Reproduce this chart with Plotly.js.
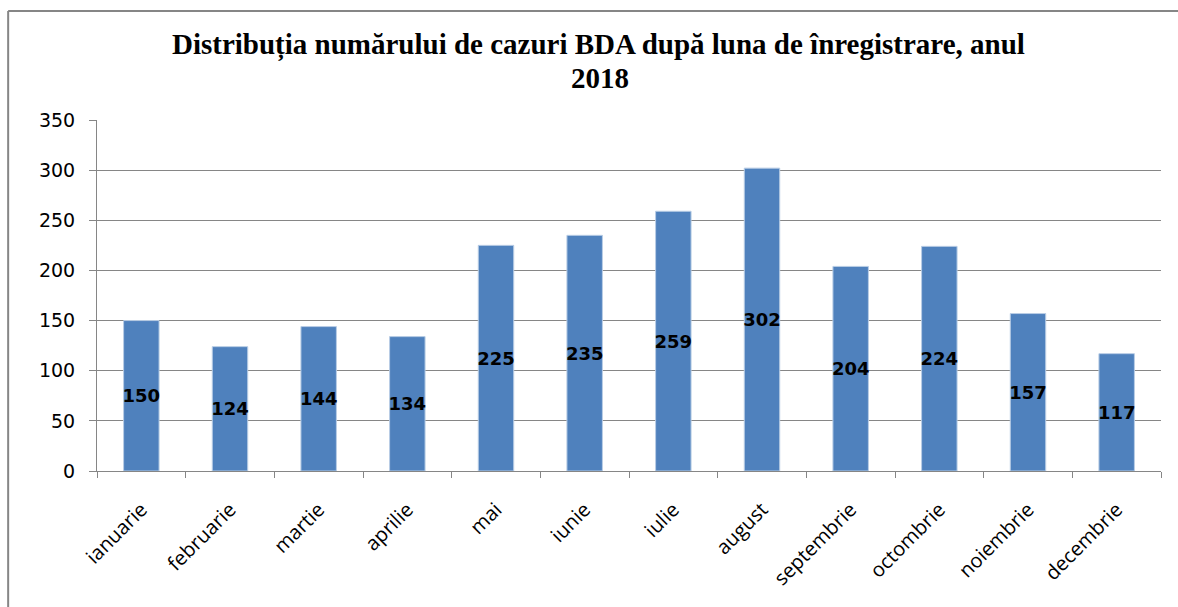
<!DOCTYPE html>
<html>
<head>
<meta charset="utf-8">
<script src="https://cdn.plot.ly/plotly-3.0.1.min.js"></script>
<style>
html,body{margin:0;padding:0;background:#fff;}
#chart{width:1178px;height:607px;}
</style>
</head>
<body>
<div id="chart"></div>
<script>
const months = ["ianuarie","februarie","martie","aprilie","mai","iunie","iulie","august","septembrie","octombrie","noiembrie","decembrie"];
const cases = [150,124,144,134,225,235,259,302,204,224,157,117];
const yTicks = [0,50,100,150,200,250,300,350];
const titleLine1 = "Distribuția numărului de cazuri BDA după luna de înregistrare, anul";
const titleLine2 = "2018";

const trace = {
  type: "bar",
  x: months,
  y: cases,
  text: cases.map(String),
  textposition: "inside",
  insidetextanchor: "middle",
  textangle: 0,
  textfont: {family: "DejaVu Sans", size: 18, color: "#000", weight: "bold"},
  constraintext: "none",
  cliponaxis: false,
  marker: {color: "#4F81BD", line: {color: "#B9CDE5", width: 1}},
  hoverinfo: "x+y"
};

const layout = {
  width: 1178, height: 607,
  margin: {l: 97, r: 17, t: 120, b: 136},
  paper_bgcolor: "#fff",
  plot_bgcolor: "#fff",
  bargap: 0.6,
  showlegend: false,
  title: {
    text: "<b>" + titleLine1 + "</b>",
    font: {family: "Liberation Serif", size: 29, color: "#000"},
    x: 0.508, xanchor: "center", y: 1 - 44/607, yanchor: "middle"
  },
  annotations: [
    {text: "<b>" + titleLine2 + "</b>", xref: "paper", yref: "paper", x: 0.473, y: (471-78)/351, xanchor: "center", yanchor: "middle", showarrow: false,
     font: {family: "Liberation Serif", size: 29, color: "#000"}}
  ],
  xaxis: {
    type: "category",
    tickangle: -45,
    tickfont: {family: "Open Sans", size: 20, color: "#000"},
    ticklabelstandoff: 18,
    showline: true, linecolor: "#868686", linewidth: 1,
    ticks: "outside", ticklen: 6, tickcolor: "#868686",
    tickson: "boundaries",
    showgrid: false
  },
  yaxis: {
    range: [0, 350],
    tickvals: yTicks,
    ticktext: yTicks.map(String),
    tickfont: {family: "DejaVu Sans", size: 19, color: "#000"},
    ticklabelstandoff: 10,
    showline: true, linecolor: "#868686", linewidth: 1,
    ticks: "outside", ticklen: 7, tickcolor: "#868686",
    showgrid: true, gridcolor: "#868686", gridwidth: 1,
    zeroline: false
  },
  shapes: [
    {type: "line", xref: "paper", yref: "paper", x0: -0.0835, x1: 1.02, y0: (471-11)/351, y1: (471-11)/351, line: {color: "#868686", width: 2}},
    {type: "line", xref: "paper", yref: "paper", x0: -0.0835, x1: -0.0835, y0: (471-11)/351, y1: -0.4, line: {color: "#868686", width: 2}}
  ]
};

Plotly.newPlot("chart", [trace], layout, {displayModeBar: false, staticPlot: true});
</script>
</body>
</html>
